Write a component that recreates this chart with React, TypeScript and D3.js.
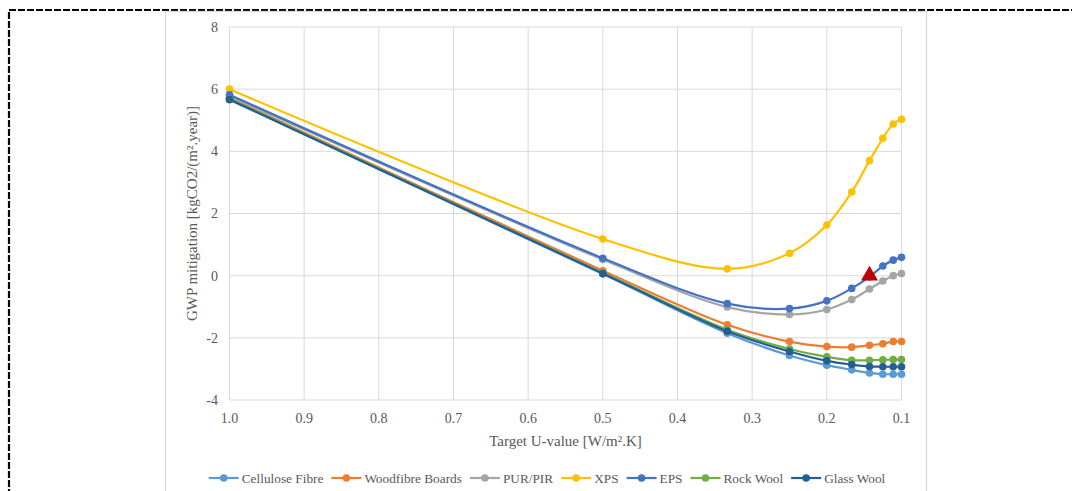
import React, { useEffect, useRef } from "react";
import * as d3 from "d3";

const uValues = [1.0, 0.5, 1 / 3, 0.25, 0.2, 1 / 6, 1 / 7, 0.125, 1 / 9, 0.1];

const celluloseFibre = [5.66, 0.05, -1.85, -2.57, -2.88, -3.03, -3.13, -3.17, -3.17, -3.17];
const woodfibreBoards = [5.72, 0.16, -1.58, -2.12, -2.28, -2.3, -2.24, -2.19, -2.12, -2.12];
const purPir = [5.78, 0.52, -1.01, -1.25, -1.09, -0.77, -0.43, -0.17, 0.0, 0.07];
const xps = [6.0, 1.18, 0.22, 0.72, 1.63, 2.69, 3.7, 4.42, 4.88, 5.03];
const eps = [5.82, 0.56, -0.9, -1.06, -0.81, -0.41, -0.04, 0.31, 0.5, 0.59];
const rockWool = [5.69, 0.09, -1.74, -2.36, -2.61, -2.72, -2.72, -2.71, -2.7, -2.7];
const glassWool = [5.67, 0.07, -1.79, -2.44, -2.74, -2.86, -2.92, -2.93, -2.93, -2.93];

const seriesNames = ["Cellulose Fibre", "Woodfibre Boards", "PUR/PIR", "XPS", "EPS", "Rock Wool", "Glass Wool"];
const seriesValues = [celluloseFibre, woodfibreBoards, purPir, xps, eps, rockWool, glassWool];
const seriesColors = ["#5B9BD5", "#ED7D31", "#A5A5A5", "#FFC000", "#4472C4", "#70AD47", "#255E91"];

const highlightPoint = { u: 1 / 7, v: 0 };

const xTicks = [1.0, 0.9, 0.8, 0.7, 0.6, 0.5, 0.4, 0.3, 0.2, 0.1];
const yTicks = [-4, -2, 0, 2, 4, 6, 8];

const xTitle = "Target U-value [W/m².K]";
const yTitle = "GWP mitigation [kgCO2/(m².year)]";

const W = 1072;
const H = 491;
const FONT = "'Liberation Serif', 'Times New Roman', serif";
const TEXT = "#595959";
const GRID = "#D9D9D9";

export default function App() {
  const ref = useRef<SVGSVGElement | null>(null);

  useEffect(() => {
    const svg = d3.select(ref.current);
    svg.selectAll("*").remove();

    const x = d3.scaleLinear().domain([1.0, 0.1]).range([229.5, 901.5]);
    const y = d3.scaleLinear().domain([-4, 8]).range([400, 27]);

    // outer dashed frame
    svg.append("path")
      .attr("d", `M9,${H + 5} L9,10 L${W + 5},10`)
      .attr("fill", "none")
      .attr("stroke", "#000")
      .attr("stroke-width", 2.2)
      .attr("stroke-dasharray", "7,2");

    // chart area border
    svg.append("rect")
      .attr("x", 165.5).attr("y", 11.5)
      .attr("width", 761).attr("height", H + 10)
      .attr("fill", "#fff")
      .attr("stroke", GRID).attr("stroke-width", 1.3);

    const g = svg.append("g");

    // gridlines
    g.selectAll(".vg").data(xTicks).enter().append("line")
      .attr("x1", d => x(d)).attr("x2", d => x(d))
      .attr("y1", y(8)).attr("y2", y(-4))
      .attr("stroke", GRID).attr("stroke-width", 1);
    g.selectAll(".hg").data(yTicks).enter().append("line")
      .attr("x1", x(1.0)).attr("x2", x(0.1))
      .attr("y1", d => y(d)).attr("y2", d => y(d))
      .attr("stroke", GRID).attr("stroke-width", 1);

    // tick labels
    g.selectAll(".yt").data(yTicks).enter().append("text")
      .attr("x", 218).attr("y", d => y(d))
      .attr("dy", "0.35em")
      .attr("text-anchor", "end")
      .attr("font-family", FONT).attr("font-size", 14).attr("fill", TEXT)
      .text(d => d3.format("d")(d).replace("−", "-"));
    g.selectAll(".xt").data(xTicks).enter().append("text")
      .attr("x", d => x(d)).attr("y", 423)
      .attr("text-anchor", "middle")
      .attr("font-family", FONT).attr("font-size", 14).attr("fill", TEXT)
      .text(d => d3.format(".1f")(d));

    // axis titles
    g.append("text")
      .attr("x", (x(1.0) + x(0.1)) / 2).attr("y", 446)
      .attr("text-anchor", "middle")
      .attr("font-family", FONT).attr("font-size", 15).attr("fill", TEXT)
      .text(xTitle);
    g.append("text")
      .attr("transform", `translate(197,${(y(8) + y(-4)) / 2}) rotate(-90)`)
      .attr("text-anchor", "middle")
      .attr("font-family", FONT).attr("font-size", 15).attr("fill", TEXT)
      .text(yTitle);

    // series
    const line = d3.line<[number, number]>()
      .x(d => x(d[0])).y(d => y(d[1]))
      .curve(d3.curveCatmullRom.alpha(0.5));

    seriesValues.forEach((vals, i) => {
      const pts: [number, number][] = vals.map((v, j) => [uValues[j], v]);
      const sg = g.append("g");
      sg.append("path")
        .attr("d", line(pts) as string)
        .attr("fill", "none")
        .attr("stroke", seriesColors[i])
        .attr("stroke-width", 2.2)
        .attr("stroke-linejoin", "round");
      sg.selectAll("circle").data(pts).enter().append("circle")
        .attr("cx", d => x(d[0])).attr("cy", d => y(d[1]))
        .attr("r", 3.8)
        .attr("fill", seriesColors[i]);
    });

    // highlight triangle
    const tri = d3.symbol().type(d3.symbolTriangle).size(125);
    g.append("path")
      .attr("d", tri() as string)
      .attr("transform", `translate(${x(highlightPoint.u)},${y(highlightPoint.v)})`)
      .attr("fill", "#C00000");

    // legend
    const lg = svg.append("g");
    const ly = 478;
    const items: { g: any; w: number }[] = [];
    seriesNames.forEach((name, i) => {
      const ig = lg.append("g");
      ig.append("line").attr("x1", 0).attr("x2", 30).attr("y1", 0).attr("y2", 0)
        .attr("stroke", seriesColors[i]).attr("stroke-width", 2.2);
      ig.append("circle").attr("cx", 15).attr("cy", 0).attr("r", 3.8).attr("fill", seriesColors[i]);
      const t = ig.append("text").attr("x", 33).attr("y", 0).attr("dy", "0.35em")
        .attr("font-family", FONT).attr("font-size", 13.3).attr("fill", TEXT)
        .text(name);
      const tw = (t.node() as SVGTextElement).getComputedTextLength();
      items.push({ g: ig, w: 33 + tw });
    });
    const gap = 8;
    const total = items.reduce((s, it) => s + it.w, 0) + gap * (items.length - 1);
    let cx = 547 - total / 2;
    items.forEach(it => {
      it.g.attr("transform", `translate(${cx},${ly})`);
      cx += it.w + gap;
    });
  }, []);

  return (
    <svg
      ref={ref}
      width={W}
      height={H}
      style={{ position: "absolute", left: 0, top: 0, background: "#fff" }}
    />
  );
}
